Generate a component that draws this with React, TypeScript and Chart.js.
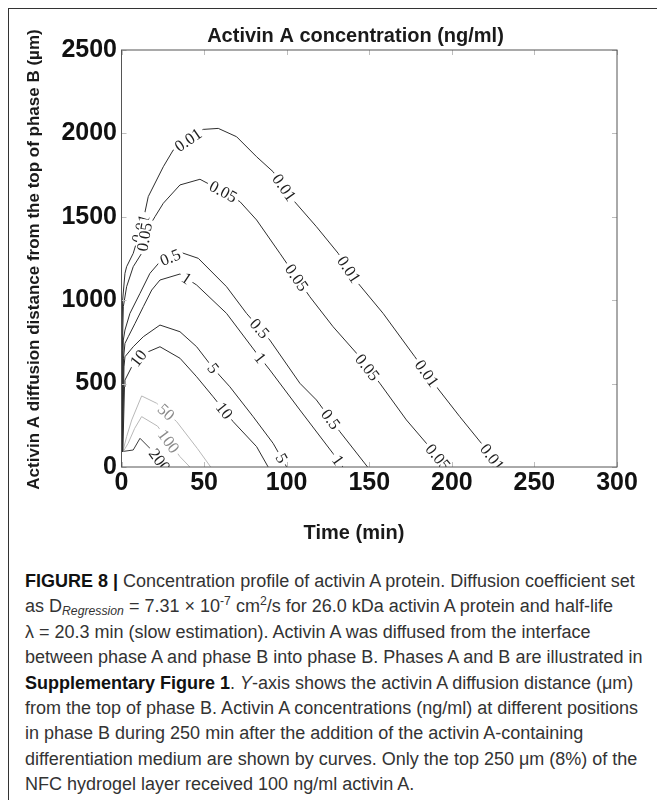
import React, { useEffect, useRef } from "react";
import { Chart, registerables } from "chart.js";

Chart.register(...registerables);

// ---- axis ticks ----
const xTickValues = [0, 50, 100, 150, 200, 250, 300];
const xTickLabels = ["0", "50", "100", "150", "200", "250", "300"];
const yTickValues = [0, 500, 1000, 1500, 2000, 2500];
const yTickLabels = ["0", "500", "1000", "1500", "2000", "2500"];

// ---- contour levels (ng/ml) ----
const levels = ["0.01", "0.05", "0.5", "1", "5", "10", "50", "100", "200"];

// ---- contour polylines: time (min) and distance (µm) ----
const t001 = [0.1, 0.3, 0.7, 2.1, 3.1, 7.1, 13.2, 16.2, 25.3, 31.3, 49.5, 58.6, 69.7, 81.8, 91.8, 103.9, 118, 131.2, 143.3, 158.4, 177.6, 190.7, 204.8, 217.9, 229];
const d001 = [92, 801, 1001, 1161, 1201, 1281, 1481, 1621, 1800, 1900, 2024, 2030, 1980, 1860, 1770, 1601, 1441, 1281, 1101, 921, 661, 481, 302, 142, 0];

const t005 = [0.2, 0.5, 1.1, 3.1, 7.1, 12.2, 14.2, 20.3, 25.3, 35.4, 47.5, 61.6, 71.7, 81.8, 95.9, 114, 128.1, 142.3, 156.4, 172.5, 184.6, 196.7];
const d005 = [92, 700, 961, 1081, 1201, 1281, 1400, 1501, 1581, 1691, 1725, 1651, 1591, 1481, 1281, 1021, 841, 682, 502, 282, 142, 0];

const t05 = [0.3, 0.8, 1.1, 2.1, 5.1, 11.2, 17.2, 23.3, 36.4, 46.5, 63.6, 75.7, 89.8, 108, 118, 132.2, 149];
const d05 = [92, 600, 761, 821, 921, 1041, 1161, 1231, 1285, 1251, 1081, 921, 761, 502, 402, 212, 0];

const t1 = [0.4, 1.2, 2.1, 4.1, 8.2, 13.2, 18.3, 23.3, 35.4, 45.5, 63.6, 81.8, 89.8, 108, 128, 134];
const d1 = [92, 650, 741, 781, 861, 961, 1061, 1121, 1157, 1091, 921, 682, 582, 342, 82, 0];

const t5 = [0.6, 1.5, 2.1, 7.1, 13.2, 23.3, 35.4, 45.5, 55.5, 65.6, 79.7, 91.8, 100];
const d5 = [92, 600, 661, 721, 781, 851, 811, 721, 592, 481, 302, 142, 0];

const t10 = [0.8, 1.8, 2.1, 6.2, 10.2, 16.2, 23.3, 35.4, 45.5, 55.5, 67.6, 81.8, 88.8];
const d10 = [92, 480, 521, 601, 652, 691, 721, 652, 541, 421, 272, 122, 0];

const t50 = [1.0, 1.3, 3.1, 6.2, 12.2, 21.3, 33.4, 46, 54];
const d50 = [95, 112, 182, 282, 426, 382, 272, 110, 0];

const t100 = [1.2, 1.5, 4.0, 8.0, 12.2, 21.8, 35.4, 41.4];
const d100 = [95, 100, 142, 232, 302, 245, 62, 0];

const t200 = [0, 7.1, 11.2, 19.2, 26];
const d200 = [92, 102, 172, 92, 0];

const contourTimes = [t001, t005, t05, t1, t5, t10, t50, t100, t200];
const contourDists = [d001, d005, d05, d1, d5, d10, d50, d100, d200];
const contourColors = ["#2e2e2e", "#2e2e2e", "#2e2e2e", "#2e2e2e", "#2e2e2e", "#2e2e2e", "#b8b8b8", "#b8b8b8", "#3c3c3c"];

// ---- inline contour labels (level, approx. time, approx. distance) ----
const labelLevels = ["0.01", "0.05", "0.01", "0.01", "0.01", "0.01", "0.01", "0.05", "0.05", "0.05", "0.05", "0.5", "0.5", "0.5", "1", "1", "1", "5", "5", "10", "10", "50", "100", "200"];
const labelTimes = [10.2, 13.6, 40.4, 97.9, 137.2, 183.6, 224.9, 61.6, 107, 149.3, 190.7, 29.3, 83.8, 126.1, 39.4, 83.8, 131.2, 55.5, 96.9, 10.2, 61.6, 27.3, 28.3, 23.3];
const labelDists = [1431, 1380, 1960, 1671, 1181, 552, 62, 1651, 1141, 601, 52, 1261, 832, 282, 1131, 652, 42, 592, 52, 652, 332, 332, 152, 42];

const SANS = "'Liberation Sans', Arial, Helvetica, sans-serif";
const SERIF = "'Liberation Serif', 'Times New Roman', serif";

const contourLabelPlugin = {
  id: "contourLabels",
  afterDatasetsDraw(chart: any) {
    const { ctx, chartArea } = chart;
    const xs = chart.scales.x;
    const ys = chart.scales.y;
    ctx.save();
    ctx.beginPath();
    ctx.rect(chartArea.left, chartArea.top, chartArea.right - chartArea.left, chartArea.bottom - chartArea.top);
    ctx.clip();
    ctx.font = `16.5px ${SERIF}`;
    ctx.textAlign = "center";
    ctx.textBaseline = "middle";
    labelLevels.forEach((lev, i) => {
      const li = levels.indexOf(lev);
      const ts = contourTimes[li];
      const ds = contourDists[li];
      const px = xs.getPixelForValue(labelTimes[i]);
      const py = ys.getPixelForValue(labelDists[i]);
      let best = { d: Infinity, x: px, y: py, a: 0 };
      for (let k = 0; k < ts.length - 1; k++) {
        const x1 = xs.getPixelForValue(ts[k]);
        const y1 = ys.getPixelForValue(ds[k]);
        const x2 = xs.getPixelForValue(ts[k + 1]);
        const y2 = ys.getPixelForValue(ds[k + 1]);
        const dx = x2 - x1;
        const dy = y2 - y1;
        const len2 = dx * dx + dy * dy || 1;
        let u = ((px - x1) * dx + (py - y1) * dy) / len2;
        u = Math.max(0, Math.min(1, u));
        const cx = x1 + u * dx;
        const cy = y1 + u * dy;
        const dist = Math.hypot(px - cx, py - cy);
        if (dist < best.d) best = { d: dist, x: cx, y: cy, a: Math.atan2(dy, dx) };
      }
      let a = best.a;
      if (a > Math.PI / 2) a -= Math.PI;
      if (a < -Math.PI / 2) a += Math.PI;
      ctx.save();
      ctx.translate(best.x, best.y);
      ctx.rotate(a);
      const w = ctx.measureText(lev).width;
      ctx.fillStyle = "#fff";
      ctx.fillRect(-w / 2 - 3, -6.5, w + 6, 13);
      ctx.fillStyle = li === 6 || li === 7 ? "#8a8a8a" : "#1e1e1e";
      ctx.fillText(lev, 0, 1);
      ctx.restore();
    });
    ctx.restore();
  },
};

const framePlugin = {
  id: "frameAndTitles",
  afterDraw(chart: any) {
    const { ctx, chartArea } = chart;
    const xs = chart.scales.x;
    const ys = chart.scales.y;
    const { left, right, top, bottom } = chartArea;
    ctx.save();
    // inner tick marks
    ctx.strokeStyle = "#bdbdbd";
    ctx.lineWidth = 1;
    ctx.beginPath();
    xTickValues.forEach((v) => {
      const px = Math.round(xs.getPixelForValue(v)) + 0.5;
      ctx.moveTo(px, bottom);
      ctx.lineTo(px, bottom - 5);
      ctx.moveTo(px, top);
      ctx.lineTo(px, top + 5);
    });
    yTickValues.forEach((v) => {
      const py = Math.round(ys.getPixelForValue(v)) + 0.5;
      ctx.moveTo(left, py);
      ctx.lineTo(left + 5, py);
      ctx.moveTo(right, py);
      ctx.lineTo(right - 5, py);
    });
    ctx.stroke();
    // axes box
    ctx.strokeStyle = "#555";
    ctx.strokeRect(left, top, right - left, bottom - top);

    // titles
    ctx.fillStyle = "#1a1a1a";
    ctx.textAlign = "center";
    ctx.textBaseline = "middle";
    ctx.font = `bold 20px ${SANS}`;
    ctx.fillText("Activin A concentration (ng/ml)", 355.5, 36.5);
    ctx.fillText("Time (min)", 354, 533);
    ctx.save();
    ctx.translate(34.5, (top + bottom) / 2 + 1);
    ctx.rotate(-Math.PI / 2);
    ctx.font = `bold 17px ${SANS}`;
    ctx.fillText("Activin A diffusion distance from the top of phase B (µm)", 0, 0);
    ctx.restore();
    ctx.restore();
  },
};

export default function App() {
  const ref = useRef<HTMLCanvasElement>(null);

  useEffect(() => {
    const datasets = levels.map((lev, i) => ({
      label: lev,
      data: contourTimes[i].map((t, k) => ({ x: t, y: contourDists[i][k] })),
      showLine: true,
      borderColor: contourColors[i],
      backgroundColor: contourColors[i],
      borderWidth: 1,
      pointRadius: 0,
      fill: false,
      tension: 0,
    }));

    const chart = new Chart(ref.current as HTMLCanvasElement, {
      type: "scatter",
      data: { datasets },
      options: {
        animation: false,
        responsive: false,
        events: [],
        layout: { padding: { left: 0, right: 40, top: 50, bottom: 0 } },
        plugins: {
          legend: { display: false },
          tooltip: { enabled: false },
          title: { display: false },
        },
        scales: {
          x: {
            type: "linear",
            min: 0,
            max: 300,
            afterBuildTicks: (s: any) => {
              s.ticks = xTickValues.map((v) => ({ value: v }));
            },
            afterFit: (s: any) => {
              s.height = 93;
            },
            ticks: {
              callback: (v: any) => xTickLabels[xTickValues.indexOf(Number(v))],
              font: { family: SANS, size: 25, weight: "bold" },
              color: "#111",
              padding: 1.5,
              maxRotation: 0,
              autoSkip: false,
            },
            grid: { display: false, drawTicks: false },
            border: { display: false },
          },
          y: {
            type: "linear",
            min: 0,
            max: 2500,
            afterBuildTicks: (s: any) => {
              s.ticks = yTickValues.map((v) => ({ value: v }));
            },
            afterFit: (s: any) => {
              s.width = 121.5;
            },
            ticks: {
              callback: (v: any) => yTickLabels[yTickValues.indexOf(Number(v))],
              font: { family: SANS, size: 25, weight: "bold" },
              color: "#111",
              padding: 4.5,
              autoSkip: false,
            },
            grid: { display: false, drawTicks: false },
            border: { display: false },
          },
        },
      },
      plugins: [contourLabelPlugin, framePlugin],
    } as any);

    return () => chart.destroy();
  }, []);

  const sub = { fontSize: "0.68em", lineHeight: 0, verticalAlign: "-0.28em" } as React.CSSProperties;
  const sup = { fontSize: "0.68em", lineHeight: 0, verticalAlign: "0.55em" } as React.CSSProperties;
  const bold = { fontWeight: "bold", color: "#111" } as React.CSSProperties;

  return (
    <div style={{ position: "absolute", left: 0, top: 0, width: 657, height: 800, background: "#fff", overflow: "hidden" }}>
      <div
        style={{
          position: "absolute",
          left: 8,
          top: 8,
          width: 720,
          height: 820,
          borderLeft: "1px solid #333",
          borderTop: "1px solid #333",
        }}
      />
      <canvas ref={ref} width={657} height={560} style={{ position: "absolute", left: 0, top: 0, width: 657, height: 560 }} />
      <div
        style={{
          position: "absolute",
          left: 25,
          top: 569,
          fontFamily: SANS,
          fontSize: 18,
          lineHeight: "25.4px",
          color: "#333",
          whiteSpace: "nowrap",
        }}
      >
        <div>
          <span style={bold}>FIGURE 8 |</span> Concentration profile of activin A protein. Diffusion coefficient set
        </div>
        <div>
          as D<span style={sub}><i>Regression</i></span> = 7.31 × 10<span style={sup}>-7</span> cm<span style={sup}>2</span>/s for 26.0 kDa activin A protein and half-life
        </div>
        <div>λ = 20.3 min (slow estimation). Activin A was diffused from the interface</div>
        <div>between phase A and phase B into phase B. Phases A and B are illustrated in</div>
        <div>
          <span style={bold}>Supplementary Figure 1</span>. <i>Y</i>-axis shows the activin A diffusion distance (μm)
        </div>
        <div>from the top of phase B. Activin A concentrations (ng/ml) at different positions</div>
        <div>in phase B during 250 min after the addition of the activin A-containing</div>
        <div>differentiation medium are shown by curves. Only the top 250 μm (8%) of the</div>
        <div>NFC hydrogel layer received 100 ng/ml activin A.</div>
      </div>
    </div>
  );
}
